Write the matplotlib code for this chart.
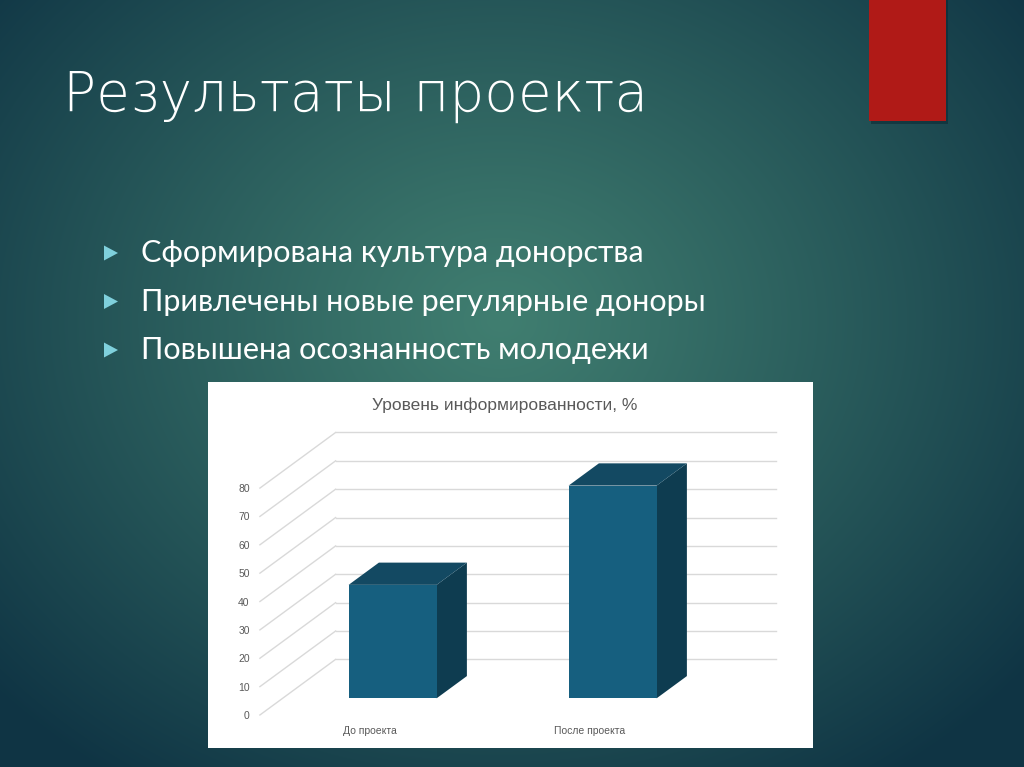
import numpy as np
import matplotlib
matplotlib.use('Agg')
import matplotlib.pyplot as plt
from matplotlib.patches import Polygon, Rectangle

# slide content
slide_title = 'Результаты проекта'
bullets = ['Сформирована культура донорства',
           'Привлечены новые регулярные доноры',
           'Повышена осознанность молодежи']

# chart data
chart_title = 'Уровень информированности, %'
categories = ['До проекта', 'После проекта']
values = [40, 75]
yticks = [0, 10, 20, 30, 40, 50, 60, 70, 80]

# 3d look: depth vector (x units, value units), bar depth span, bar width
depth_dx = 0.344 ; depth_dy = 19.6
d0 = 0.3 ; d1 = 0.7
bar_w = 0.4

col_front = '#165f7f' ; col_top = '#134962' ; col_side = '#0e3c50'
grid_col = '#d9d9d9' ; txt_col = '#595959'

W, H = 1024, 767
fig = plt.figure(figsize=(W/100, H/100), dpi=100)

def frect(x0, y0, x1, y1):
    return [x0/W, 1 - y1/H, (x1 - x0)/W, (y1 - y0)/H]

# background with radial teal gradient
bg = fig.add_axes([0, 0, 1, 1])
yy, xx = np.mgrid[0:H, 0:W]
d = np.sqrt(((xx - 500)/680.0)**2 + ((yy - 320)/560.0)**2)
t = np.clip(d, 0, 1)**1.1
c_in = np.array([64, 126, 112])/255.0
c_out = np.array([15, 52, 68])/255.0
img = c_in[None, None, :]*(1 - t[..., None]) + c_out[None, None, :]*t[..., None]
bg.imshow(img, extent=[0, W, H, 0], aspect='auto')
bg.set_xlim(0, W) ; bg.set_ylim(H, 0)
bg.axis('off')

# red tab top right with a little shadow
bg.add_patch(Rectangle((871, 0), 77, 124, color='#0a2530', alpha=0.5, lw=0))
bg.add_patch(Rectangle((869, 0), 77, 121, color='#b01a17', lw=0))

bg.text(63, 96, slide_title, color='white', fontsize=39.5, family='DejaVu Sans',
        weight='light', va='center', ha='left')

for i, b in enumerate(bullets):
    y = 253 + i*48.5
    bg.add_patch(Polygon([[104, y - 7.5], [104, y + 7.5], [118, y]],
                         closed=True, color='#7fd0dc', lw=0))
    bg.text(141, y, b, color='white', fontsize=22, family='Lato',
            weight='normal', va='center', ha='left')

# chart box
ax = fig.add_axes(frect(208, 382, 813, 748))
ax.set_facecolor('white')
ax.set_xlim(-0.236, 2.514)
ax.set_ylim(-11.64, 117.4)
for s in ax.spines.values():
    s.set_visible(False)

# floor/side diagonals and back wall grid
nb = len(categories)
for v in yticks:
    ax.plot([0, depth_dx], [v, v + depth_dy], color=grid_col, lw=1, zorder=1)
    ax.plot([depth_dx, nb + depth_dx], [v + depth_dy, v + depth_dy],
            color=grid_col, lw=1, zorder=1)

# bars
centers = np.arange(nb) + 0.5
for c, v in zip(centers, values):
    xl = c - bar_w/2 ; xr = c + bar_w/2
    fx0 = d0*depth_dx ; fy0 = d0*depth_dy
    fx1 = d1*depth_dx ; fy1 = d1*depth_dy
    side = [[xr + fx0, fy0], [xr + fx1, fy1], [xr + fx1, v + fy1], [xr + fx0, v + fy0]]
    top = [[xl + fx0, v + fy0], [xr + fx0, v + fy0], [xr + fx1, v + fy1], [xl + fx1, v + fy1]]
    front = [[xl + fx0, fy0], [xr + fx0, fy0], [xr + fx0, v + fy0], [xl + fx0, v + fy0]]
    ax.add_patch(Polygon(side, closed=True, color=col_side, lw=0, zorder=3))
    ax.add_patch(Polygon(top, closed=True, color=col_top, lw=0, zorder=3))
    ax.add_patch(Polygon(front, closed=True, color=col_front, lw=0, zorder=4))

ax.set_yticks(yticks)
ax.set_yticklabels([str(v) for v in yticks])
ax.set_xticks(centers)
ax.set_xticklabels(categories)
ax.tick_params(axis='y', length=0, pad=-30, labelsize=7.5, labelcolor=txt_col)
ax.tick_params(axis='x', length=0, pad=-16, labelsize=7.5, labelcolor=txt_col)
for lab in ax.get_xticklabels() + ax.get_yticklabels():
    lab.set_family('Liberation Sans')

ax.text(0.491, 0.937, chart_title, transform=ax.transAxes, ha='center',
        va='center', fontsize=12.5, color=txt_col, family='Liberation Sans')

fig.savefig('out.png', dpi=100)
